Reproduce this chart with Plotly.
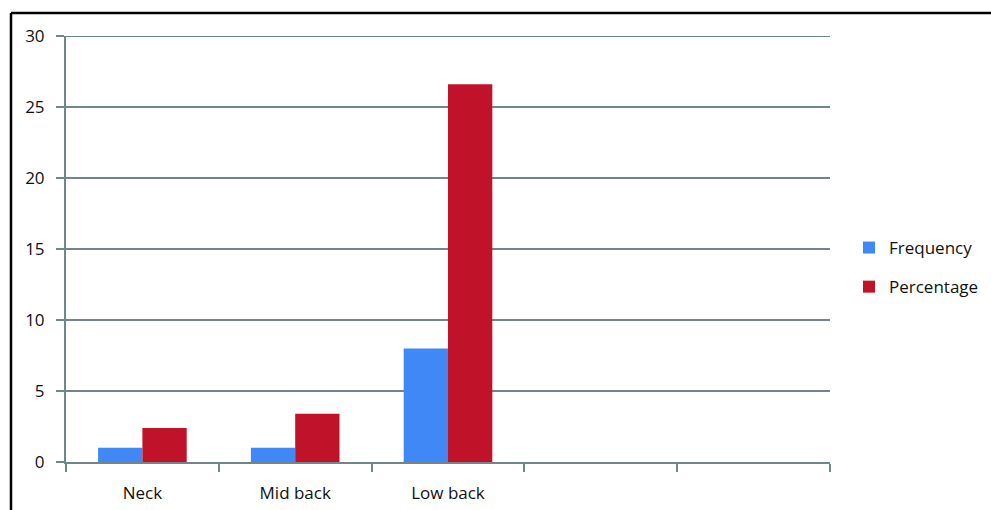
import plotly.graph_objects as go

# Pain location data
categories = ["Neck", "Mid back", "Low back", " ", "  "]
frequency = [1, 1, 8, None, None]
percentage = [2.4, 3.4, 26.6, None, None]
y_ticks = [0, 5, 10, 15, 20, 25, 30]

grid_color = "#728587"
font_family = "'Open Sans', sans-serif"

fig = go.Figure()
fig.add_trace(go.Bar(x=categories, y=frequency, name="Frequency",
                     legendgroup="f",
                     marker=dict(color="#3f88f5", line=dict(width=0))))
fig.add_trace(go.Bar(x=categories, y=percentage, name="Percentage",
                     legendgroup="p",
                     marker=dict(color="#c0132a", line=dict(width=0))))

fig.update_layout(
    width=991, height=510,
    margin=dict(l=66, r=161, t=36, b=48, autoexpand=False),
    paper_bgcolor="white", plot_bgcolor="white",
    barmode="group", bargap=0.42, bargroupgap=0,
    font=dict(family=font_family, size=16, color="#111111"),
    showlegend=True,
    legend=dict(xref="container", yref="container",
                x=849 / 991, y=1 - 230 / 510, xanchor="left", yanchor="top",
                font=dict(size=17), tracegroupgap=14, itemwidth=30),
    xaxis=dict(
        type="category", categoryorder="array", categoryarray=categories,
        range=[-0.5, 4.5], tickson="boundaries", ticks="outside",
        ticklen=8, tickwidth=2, tickcolor=grid_color,
        showline=True, linecolor=grid_color, linewidth=2,
        showgrid=False, tickfont=dict(size=17), ticklabelstandoff=15,
    ),
    yaxis=dict(
        range=[0, 30], tickvals=y_ticks, ticks="outside", ticklen=8,
        tickwidth=2, tickcolor=grid_color,
        showgrid=True, gridcolor=grid_color, gridwidth=2,
        showline=True, linecolor=grid_color, linewidth=2,
        zeroline=False, tickfont=dict(size=17), ticklabelstandoff=8,
    ),
    shapes=[
        # gridline on the top edge of the plot
        dict(type="line", xref="paper", yref="y", x0=0, x1=1, y0=30, y1=30,
             line=dict(color=grid_color, width=2)),
        # outer frame (left and top)
        dict(type="line", xref="paper", yref="paper",
             x0=(11 - 66) / 764, x1=(995 - 66) / 764,
             y0=(462 - 13) / 426, y1=(462 - 13) / 426,
             line=dict(color="black", width=2.5)),
        dict(type="line", xref="paper", yref="paper",
             x0=(11 - 66) / 764, x1=(11 - 66) / 764,
             y0=(462 - 13) / 426, y1=(462 - 515) / 426,
             line=dict(color="black", width=2.5)),
    ],
)

fig.write_html("out.html")
